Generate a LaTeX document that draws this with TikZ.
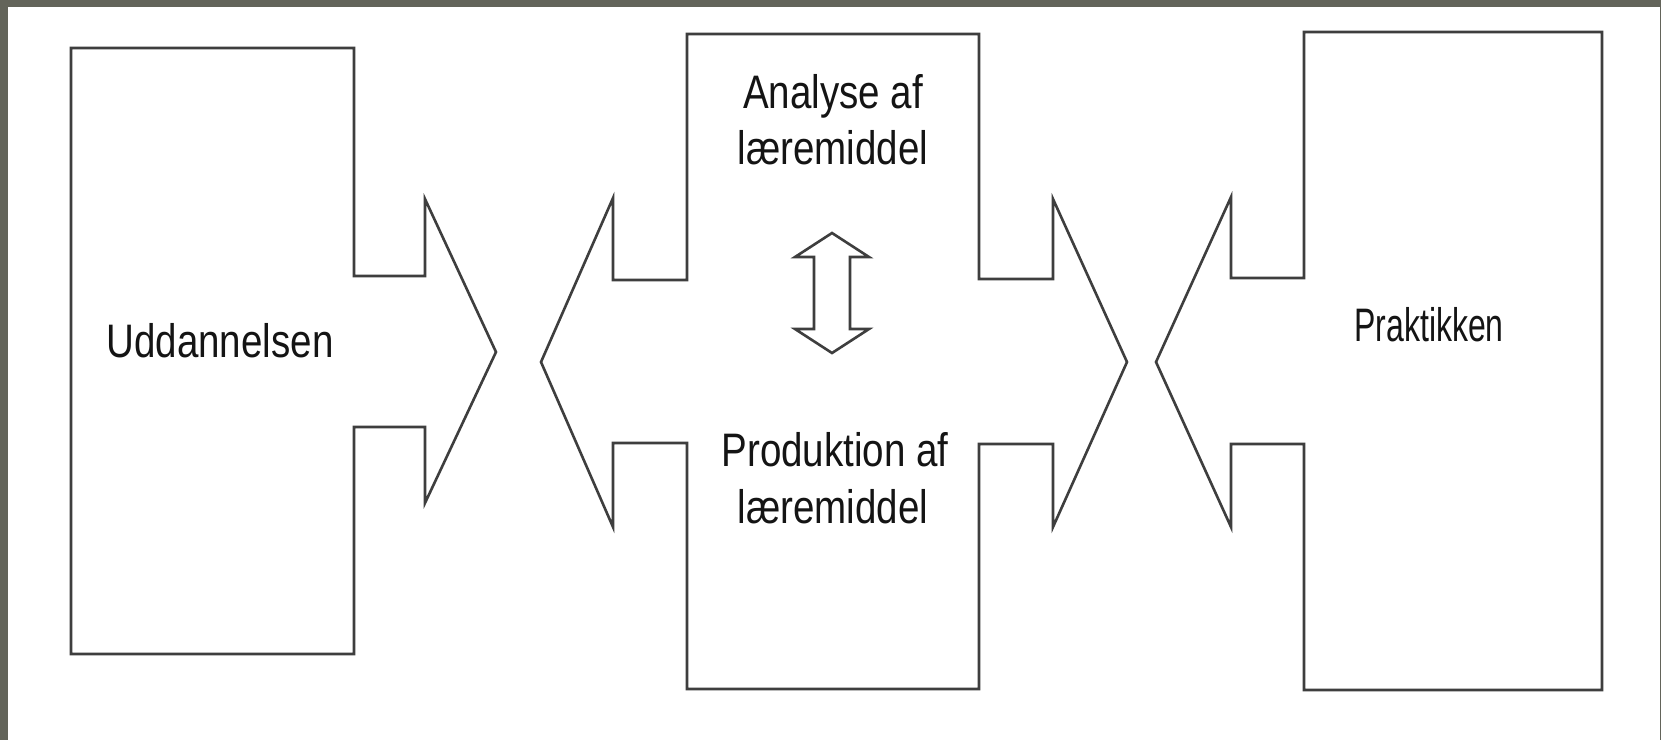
\documentclass[tikz,border=0pt]{standalone}
\usepackage{fontspec}
\setmainfont{Liberation Sans}[FakeStretch=0.82]
\definecolor{framegray}{HTML}{63645A}
\definecolor{linegray}{HTML}{3E3E3E}
\definecolor{textdark}{HTML}{141414}
\begin{document}
\begin{tikzpicture}[x=1pt,y=-1pt,
  shapeline/.style={draw=linegray,line width=2.6pt,line join=miter,fill=white},
  lbl/.style={anchor=base,inner sep=0pt,text=textdark,font=\fontsize{47}{56}\selectfont}]
\useasboundingbox (0,0) rectangle (1661,740);
\fill[framegray] (0,0) rectangle (1661,740);
\fill[white] (8,7) rectangle (1660,740);
% left block with arrow pointing right
\draw[shapeline] (71,48) -- (354,48) -- (354,276) -- (425,276) -- (425,199) -- (496,352)
  -- (425,503) -- (425,427) -- (354,427) -- (354,654) -- (71,654) -- cycle;
% middle block with arrows on both sides
\draw[shapeline] (687,34) -- (979,34) -- (979,279) -- (1053,279) -- (1053,199) -- (1127,362)
  -- (1053,527) -- (1053,444) -- (979,444) -- (979,689) -- (687,689) -- (687,443)
  -- (613,443) -- (613,527) -- (541,362) -- (613,198) -- (613,280) -- (687,280) -- cycle;
% right block with arrow pointing left
\draw[shapeline] (1304,32) -- (1602,32) -- (1602,690) -- (1304,690) -- (1304,444)
  -- (1231,444) -- (1231,527) -- (1156,362) -- (1231,197) -- (1231,278) -- (1304,278) -- cycle;
% double arrow
\draw[shapeline] (832,233) -- (869,257) -- (850,257) -- (850,329) -- (869,329) -- (832,353)
  -- (795,329) -- (814,329) -- (814,257) -- (795,257) -- cycle;
% labels
\node[lbl] (udd) at (220,357) {Uddannelsen};
\node[lbl] (ana1) at (833,108) {Analyse af};
\node[lbl] (ana2) at (833,164) {læremiddel};
\node[lbl] (pro1) at (835,466) {Produktion af};
\node[lbl] (pro2) at (833,523) {læremiddel};
\node[lbl,xscale=0.83] (prak) at (1429,341) {Praktikken};
\end{tikzpicture}
\end{document}
